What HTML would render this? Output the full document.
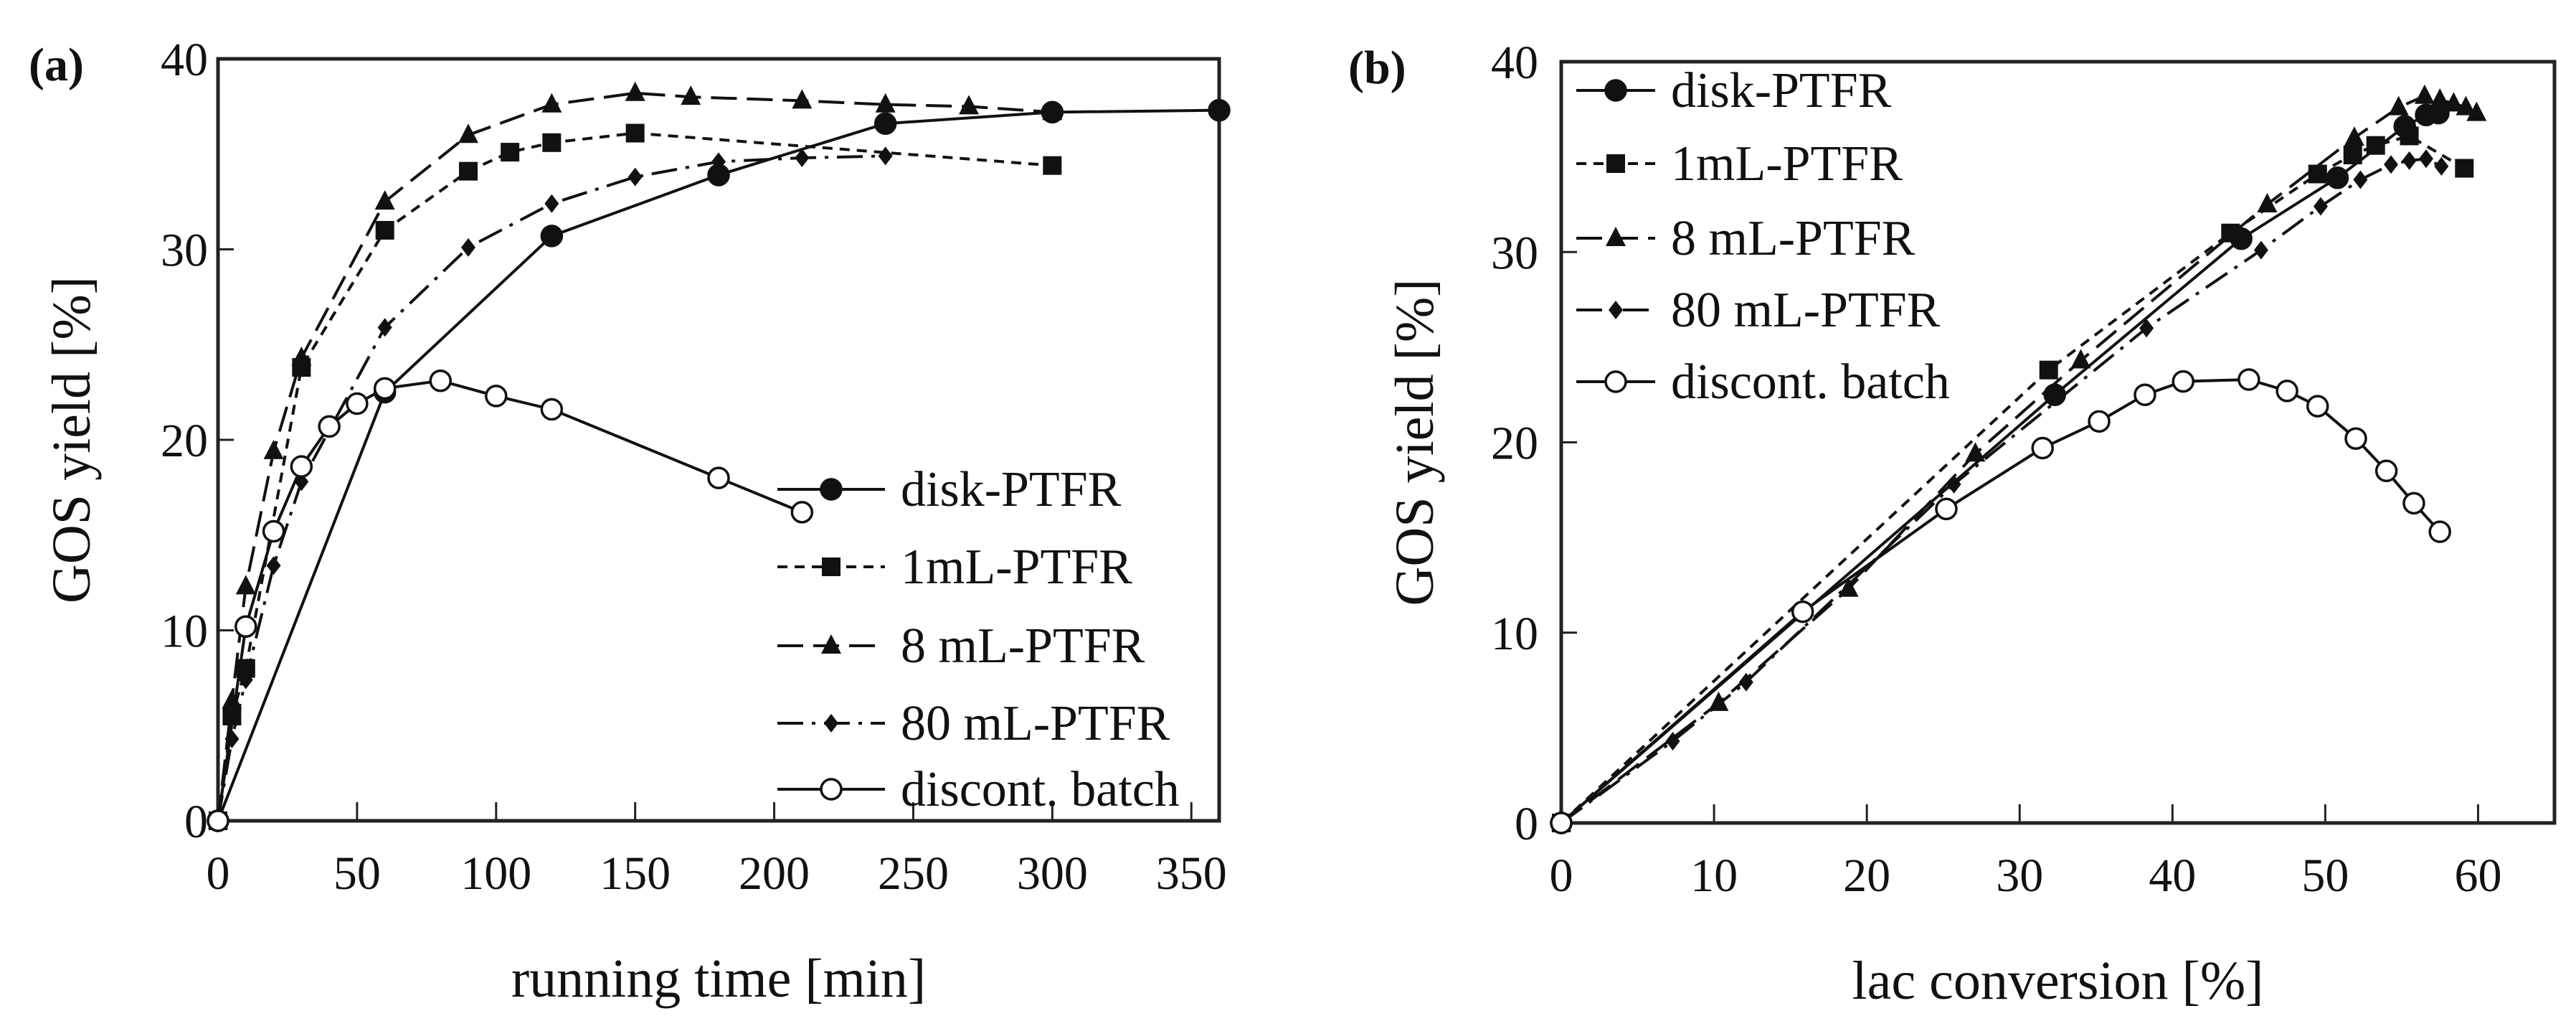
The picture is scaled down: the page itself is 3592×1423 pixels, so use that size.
<!DOCTYPE html>
<html><head><meta charset="utf-8"><style>
html,body{margin:0;padding:0;background:#fff;}
svg{display:block;}
text{font-family:"Liberation Serif",serif;fill:#111;}
</style></head>
<body>
<svg id="fig" xmlns="http://www.w3.org/2000/svg" width="3592" height="1423" viewBox="0 0 3592 1423"></svg>
<script>
// ---------- Panel (a) data ----------
const tickA_x = [0,50,100,150,200,250,300,350];
const tickY = [0,10,20,30,40];
const a_disk_t = [0,60,120,180,240,300,360];
const a_disk_y = [0,22.5,30.7,33.9,36.6,37.2,37.3];
const a_1ml_t = [0,5,10,30,60,90,105,120,150,300];
const a_1ml_y = [0,5.5,8,23.8,31,34.1,35.1,35.6,36.1,34.4];
const a_8ml_t = [0,5,10,20,30,60,90,120,150,170,210,240,270,300];
const a_8ml_y = [0,6.3,12.3,19.4,24.3,32.5,36,37.6,38.2,38,37.8,37.6,37.5,37.2];
const a_80ml_t = [0,5,10,20,30,60,90,120,150,180,210,240];
const a_80ml_y = [0,4.3,7.4,13.4,17.8,25.9,30.1,32.4,33.8,34.6,34.8,34.9];
const a_batch_t = [0,10,20,30,40,50,60,80,100,120,180,210];
const a_batch_y = [0,10.2,15.2,18.6,20.7,21.9,22.7,23.1,22.3,21.6,18,16.2];
// ---------- Panel (b) data ----------
const tickB_x = [0,10,20,30,40,50,60];
const b_disk_x = [0,32.3,44.5,50.8,55.2,56.6,57.4];
const b_disk_y = [0,22.5,30.7,33.9,36.6,37.2,37.3];
const b_1ml_x = [0,31.9,43.8,49.5,51.8,53.3,55.5,59.1];
const b_1ml_y = [0,23.8,31,34.1,35.1,35.6,36.1,34.4];
const b_8ml_x = [0,10.3,18.8,27.1,34,46.2,51.9,54.8,56.5,57.5,58.4,59.2,59.9];
const b_8ml_y = [0,6.3,12.3,19.4,24.3,32.5,36,37.6,38.2,38,37.8,37.6,37.3];
const b_80ml_x = [0,7.3,12.1,25.7,38.3,45.8,49.7,52.3,54.3,55.5,56.6,57.6];
const b_80ml_y = [0,4.3,7.4,17.8,26,30.1,32.4,33.8,34.6,34.8,34.9,34.5];
const b_batch_x = [0,15.8,25.2,31.5,35.2,38.2,40.7,45,47.5,49.5,52,54,55.8,57.5];
const b_batch_y = [0,11.1,16.5,19.7,21.1,22.5,23.2,23.3,22.7,21.9,20.2,18.5,16.8,15.3];
const legendLabels = ["disk-PTFR","1mL-PTFR","8 mL-PTFR","80 mL-PTFR","discont. batch"];

const NS="http://www.w3.org/2000/svg";
const svg=document.getElementById('fig');
function mk(tag,attrs,parent){const e=document.createElementNS(NS,tag);for(const k in attrs)e.setAttribute(k,attrs[k]);(parent||svg).appendChild(e);return e;}

const styles={
 disk:{dash:"",marker:"circle",fill:"#111"},
 ml1:{dash:"14,10",marker:"square",fill:"#111"},
 ml8:{dash:"36,14",marker:"triangle",fill:"#111"},
 ml80:{dash:"36,12,5,12",marker:"diamond",fill:"#111"},
 batch:{dash:"",marker:"circle",fill:"#fff"}
};
function marker(g,type,x,y,fill,name){
 let e;
 if(type==="circle") e=mk('circle',{cx:x,cy:y,r:14,fill:fill,stroke:"#111","stroke-width":3.5},g);
 else if(type==="square") e=mk('rect',{x:x-13,y:y-13,width:26,height:26,fill:"#111"},g);
 else if(type==="triangle") e=mk('polygon',{points:`${x},${y-16} ${x+14},${y+11} ${x-14},${y+11}`,fill:"#111"},g);
 else e=mk('polygon',{points:`${x},${y-13} ${x+10},${y} ${x},${y+13} ${x-10},${y}`,fill:"#111"},g);
 
 
}
function panel(cfg){
 const g=mk('g',{});
 
 
 const X=v=>cfg.x0+(v-cfg.xmin)/(cfg.xmax-cfg.xmin)*(cfg.x1-cfg.x0);
 const Y=v=>cfg.y0-(v/40)*(cfg.y0-cfg.y1);
 const box=mk('rect',{x:cfg.x0,y:cfg.y1,width:cfg.x1-cfg.x0,height:cfg.y0-cfg.y1,fill:"none",stroke:"#222","stroke-width":5},g);
 
 
 cfg.xticks.forEach(t=>{
  const tk=mk('line',{x1:X(t),x2:X(t),y1:cfg.y0,y2:cfg.y0-26,stroke:"#222","stroke-width":3},g);
  
  
  const lb=mk('text',{x:X(t),y:cfg.y0+95,"font-size":66,"text-anchor":"middle"},g);
  lb.textContent=t;
  
  
 });
 tickY.forEach(t=>{
  const tk=mk('line',{x1:cfg.x0,x2:cfg.x0+22,y1:Y(t),y2:Y(t),stroke:"#222","stroke-width":3},g);
  
  
  const lb=mk('text',{x:cfg.ylabX,y:Y(t)+23,"font-size":66,"text-anchor":"end"},g);
  lb.textContent=t;
  
  
 });
 const xt=mk('text',{x:(cfg.x0+cfg.x1)/2,y:cfg.y0+245,"font-size":76,"text-anchor":"middle"},g);
 xt.textContent=cfg.xtitle;
 
 
 const yt=mk('text',{x:cfg.ytX,y:(cfg.y0+cfg.y1)/2,"font-size":76,"text-anchor":"middle",transform:`rotate(-90 ${cfg.ytX} ${(cfg.y0+cfg.y1)/2})`},g);
 yt.textContent="GOS yield [%]";
 
 
 const pl=mk('text',{x:cfg.plX,y:cfg.y1+30,"font-size":66,"font-weight":"bold"},g);
 pl.textContent=cfg.plabel;
 
 
 cfg.series.forEach(s=>{
  const st=styles[s.key];
  const sg=mk('g',{},g);
  
  
  const pts=s.xs.map((v,i)=>X(v)+","+Y(s.ys[i])).join(" ");
  const ln=mk('polyline',{points:pts,fill:"none",stroke:"#111","stroke-width":4,"stroke-dasharray":st.dash},sg);
  
  
  s.xs.forEach((v,i)=>marker(sg,st.marker,X(v),Y(s.ys[i]),st.fill,s.key+'-point'));
 });
 // legend
 const lg=mk('g',{},g);
 
 
 ["disk","ml1","ml8","ml80","batch"].forEach((k,i)=>{
  const st=styles[k];const y=cfg.legY[i];
  const eg=mk('g',{},lg);
  
  
  mk('line',{x1:cfg.legX,x2:cfg.legX+cfg.legLen,y1:y,y2:y,stroke:"#111","stroke-width":4,"stroke-dasharray":st.dash},eg);
  marker(eg,st.marker,cfg.legX+cfg.legLen/2,y,st.fill,'legend-marker');
  const t=mk('text',{x:cfg.legX+cfg.legLen+22,y:y+23,"font-size":70},eg);
  t.textContent=legendLabels[i];
 });
}
panel({name:"panel-a",plabel:"(a)",plX:40,x0:304,x1:1700,xmin:0,xmax:360,y0:1144,y1:82,ylabX:290,ytX:125,
 xticks:tickA_x,xtitle:"running time [min]",legX:1084,legLen:150,legY:[682,790,900,1008,1100],
 series:[{key:"disk",xs:a_disk_t,ys:a_disk_y},{key:"ml1",xs:a_1ml_t,ys:a_1ml_y},{key:"ml8",xs:a_8ml_t,ys:a_8ml_y},{key:"ml80",xs:a_80ml_t,ys:a_80ml_y},{key:"batch",xs:a_batch_t,ys:a_batch_y}]});
panel({name:"panel-b",plabel:"(b)",plX:1880,x0:2177,x1:3562,xmin:0,xmax:65,y0:1147,y1:86,ylabX:2145,ytX:1998,
 xticks:tickB_x,xtitle:"lac conversion [%]",legX:2198,legLen:110,legY:[126,228,332,432,532],
 series:[{key:"disk",xs:b_disk_x,ys:b_disk_y},{key:"ml1",xs:b_1ml_x,ys:b_1ml_y},{key:"ml8",xs:b_8ml_x,ys:b_8ml_y},{key:"ml80",xs:b_80ml_x,ys:b_80ml_y},{key:"batch",xs:b_batch_x,ys:b_batch_y}]});
</script>
</body></html>
